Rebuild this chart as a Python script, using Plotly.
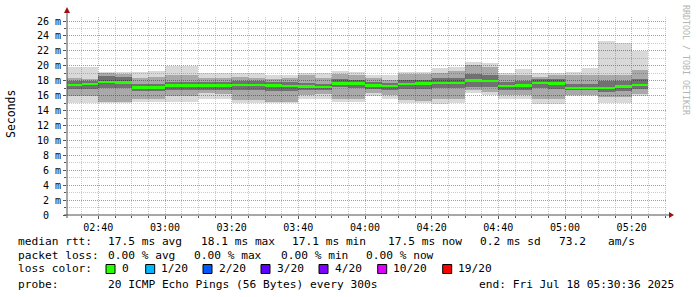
import plotly.graph_objects as go
import pandas as pd

# ---- data (ms) : one sample per 5 minutes, sample end times 02:35 .. 05:25 ----
sample_end = pd.date_range("2025-07-18 02:35:00", periods=35, freq="5min")
median = [17.45, 17.55, 17.8, 17.75, 17.1, 17.1, 17.35, 17.35, 17.35, 17.35,
          17.45, 17.45, 17.35, 17.3, 17.2, 17.15, 17.65, 17.6, 17.35, 17.3,
          17.55, 17.6, 17.7, 17.7, 18.05, 17.95, 17.3, 17.35, 17.7, 17.6,
          17.05, 17.05, 17.05, 17.2, 17.45]
ping_max = [19.9, 19.9, 19.2, 19.1, 19.2, 19.3, 20.0, 19.95, 19.0, 19.0,
            19.0, 19.0, 18.7, 18.8, 19.0, 19.0, 19.3, 19.1, 18.8, 18.7,
            19.2, 19.2, 19.65, 19.9, 20.55, 20.4, 19.0, 19.6, 19.0, 19.0,
            19.1, 19.75, 23.3, 23.1, 22.0]
ping_min = [15.0, 15.0, 15.0, 15.0, 15.2, 15.2, 15.2, 15.2, 15.6, 15.5,
            15.0, 15.0, 15.0, 15.0, 15.6, 15.6, 15.2, 15.2, 15.9, 15.6,
            15.0, 15.0, 14.85, 15.0, 16.3, 16.1, 15.6, 15.5, 14.9, 14.9,
            15.9, 15.9, 15.0, 15.0, 15.9]
ping_q3 = [18.3, 18.2, 19.0, 18.9, 18.3, 18.55, 18.8, 18.8, 18.3, 18.4,
           18.55, 18.3, 18.2, 18.3, 18.7, 18.3, 18.85, 18.8, 18.3, 18.1,
           18.85, 18.85, 19.0, 19.3, 20.1, 19.9, 18.7, 18.7, 18.55, 18.7,
           18.8, 18.8, 18.8, 18.8, 19.4]
ping_q1 = [15.9, 15.9, 15.2, 15.2, 15.6, 15.6, 15.9, 15.9, 16.3, 16.2,
           15.4, 15.4, 15.2, 15.2, 16.1, 16.2, 15.6, 15.6, 16.3, 16.1,
           15.4, 15.3, 15.6, 15.6, 16.75, 16.5, 16.1, 16.1, 15.6, 15.6,
           16.1, 16.1, 15.75, 15.75, 16.2]
core_hi = [18.0, 18.0, 18.6, 18.5, 17.5, 17.6, 17.8, 17.8, 17.8, 17.8,
           18.0, 17.9, 17.8, 17.8, 17.7, 17.6, 18.2, 18.1, 17.8, 17.7,
           18.1, 18.1, 18.4, 18.4, 18.9, 18.8, 17.8, 17.9, 18.2, 18.2,
           17.5, 17.6, 17.9, 17.9, 18.2]
core_lo = [16.9, 16.9, 17.0, 17.0, 16.6, 16.6, 16.7, 16.7, 16.8, 16.8,
           16.7, 16.7, 16.6, 16.6, 16.7, 16.7, 17.1, 17.0, 16.9, 16.8,
           16.9, 16.9, 17.0, 17.0, 17.2, 17.2, 16.8, 16.8, 17.0, 16.9,
           16.7, 16.7, 16.5, 16.6, 16.9]

y_tickvals = [0, 2, 4, 6, 8, 10, 12, 14, 16, 18, 20, 22, 24, 26]
y_ticktext = ["0\u00a0\u00a0", "2 m", "4 m", "6 m", "8 m", "10 m", "12 m", "14 m", "16 m",
              "18 m", "20 m", "22 m", "24 m", "26 m"]

legend_lines = [
    [("median rtt:", 16.7), ("17.5 ms avg", 107.3), ("18.1 ms max", 200.0),
     ("17.1 ms min", 291.0), ("17.5 ms now", 386.7), ("0.2 ms sd", 479.3),
     ("73.2", 558.3), ("am/s", 606.7)],
    [("packet loss:", 16.7), ("0.00 % avg", 107.3), ("0.00 % max", 193.3),
     ("0.00 % min", 280.0), ("0.00 % now", 365.0)],
    [("loss color:", 16.7)],
    [("probe:", 16.7), ("20 ICMP Echo Pings (56 Bytes) every 300s", 107.3),
     ("end: Fri Jul 18 05:30:36 2025", 478.3)],
]
legend_y = [241, 255.7, 268.7, 284]
loss_labels = ["0", "1/20", "2/20", "3/20", "4/20", "10/20", "19/20"]
loss_colors = ["#26ff00", "#00b8ff", "#0059ff", "#5e00ff", "#7e00ff", "#dd00ff", "#ff0000"]
loss_box_x = [106.0, 145.7, 203.0, 261.0, 319.0, 377.7, 442.7]

# ---- layout geometry (pixels) ----
W, H = 697, 297
L, R, T, B = 67, 30, 17, 82
PW, PH = W - L - R, H - T - B
Y0 = T + PH  # pixel row of y=0


def px(xp):
    return (xp - L) / PW


def py(yp):
    return (Y0 - yp) / PH


centers = sample_end - pd.Timedelta(seconds=150)
width_ms = 300 * 1000
MONO = "DejaVu Sans Mono"

fig = go.Figure()


def band(lo, hi, color):
    fig.add_trace(go.Bar(
        x=centers, base=lo, y=[h - l for l, h in zip(lo, hi)], width=width_ms,
        marker=dict(color=color, line=dict(width=0)), hoverinfo="skip",
        showlegend=False))


band(ping_min, ping_max, "rgba(0,0,0,0.15)")
band(ping_q1, ping_q3, "rgba(0,0,0,0.22)")
band(core_lo, core_hi, "rgba(0,0,0,0.33)")
half = 0.17
band([m - half for m in median], [m + half for m in median], "#26ff00")

fig.update_layout(
    width=W, height=H, autosize=False,
    margin=dict(l=L, r=R, t=T, b=B, pad=0),
    paper_bgcolor="white", plot_bgcolor="white",
    barmode="overlay", bargap=0,
    showlegend=False,
    font=dict(family=MONO, size=10, color="black"),
)

fig.update_xaxes(
    type="date",
    range=["2025-07-18 02:30:36", "2025-07-18 05:30:36"],
    tick0="2025-07-18 02:40:00", dtick=20 * 60 * 1000, tickformat="%H:%M",
    ticks="outside", ticklen=3, tickcolor="#555555",
    showgrid=True, gridcolor="rgba(200,90,90,0.55)", griddash="1px,1px", gridwidth=1,
    minor=dict(dtick=5 * 60 * 1000, tick0="2025-07-18 02:40:00", showgrid=True,
               gridcolor="rgba(150,150,150,0.5)", griddash="1px,1px", ticks="outside",
               ticklen=2, tickcolor="#555555"),
    showline=False, zeroline=False,
    tickfont=dict(family=MONO, size=10, color="black"),
)
fig.update_yaxes(
    range=[0, PH / (194 / 26)],
    tickmode="array", tickvals=y_tickvals, ticktext=y_ticktext,
    ticks="outside", ticklen=3, tickcolor="#555555",
    showgrid=True, gridcolor="rgba(200,90,90,0.55)", griddash="1px,1px", gridwidth=1,
    minor=dict(dtick=1, tick0=0, showgrid=True, gridcolor="rgba(150,150,150,0.5)",
               griddash="1px,1px", ticks="outside", ticklen=2, tickcolor="#555555"),
    showline=False, zeroline=False,
    tickfont=dict(family=MONO, size=10, color="black"),
)

shapes = []
# axis lines (extend slightly beyond plot area like rrdtool)
shapes.append(dict(type="line", xref="paper", yref="paper", x0=px(64), x1=px(669),
                   y0=0, y1=0, line=dict(color="#505050", width=1)))
shapes.append(dict(type="line", xref="paper", yref="paper", x0=0, x1=0,
                   y0=py(218), y1=py(12), line=dict(color="#505050", width=1)))
# arrows
shapes.append(dict(type="path", xref="paper", yref="paper",
                   path=f"M {px(669)} {py(212)} L {px(674)} {py(215)} L {px(669)} {py(218)} Z",
                   fillcolor="#a01010", line=dict(width=0)))
shapes.append(dict(type="path", xref="paper", yref="paper",
                   path=f"M {px(64)} {py(13)} L {px(67)} {py(7)} L {px(70)} {py(13)} Z",
                   fillcolor="#a01010", line=dict(width=0)))
# loss colour boxes
for bx, col in zip(loss_box_x, loss_colors):
    shapes.append(dict(type="rect", xref="paper", yref="paper",
                       x0=px(bx), x1=px(bx + 9), y0=py(273.5), y1=py(264.5),
                       fillcolor=col, line=dict(color="black", width=1)))
fig.update_layout(shapes=shapes)

ann = []
LEG_SIZE = 11.2
for items, yy in zip(legend_lines, legend_y):
    for txt, xx in items:
        ann.append(dict(text=txt, x=px(xx - 1), y=py(yy), xref="paper", yref="paper",
                        xanchor="left", yanchor="middle", showarrow=False,
                        font=dict(family=MONO, size=LEG_SIZE, color="black")))
for bx, lab in zip(loss_box_x, loss_labels):
    ann.append(dict(text=lab, x=px(bx + 14.7 - 1), y=py(268.7), xref="paper", yref="paper",
                    xanchor="left", yanchor="middle", showarrow=False,
                    font=dict(family=MONO, size=LEG_SIZE, color="black")))
ann.append(dict(text="Seconds", x=px(11), y=py(114), xref="paper", yref="paper",
                xanchor="center", yanchor="middle", showarrow=False, textangle=-90,
                font=dict(family=MONO, size=11.5, color="black")))
ann.append(dict(text="RRDTOOL / TOBI OETIKER", x=px(686), y=py(60), xref="paper", yref="paper",
                xanchor="center", yanchor="middle", showarrow=False, textangle=90,
                font=dict(family=MONO, size=8.3, color="#b4b4b4")))
fig.update_layout(annotations=ann)

fig.write_html("out.html")
